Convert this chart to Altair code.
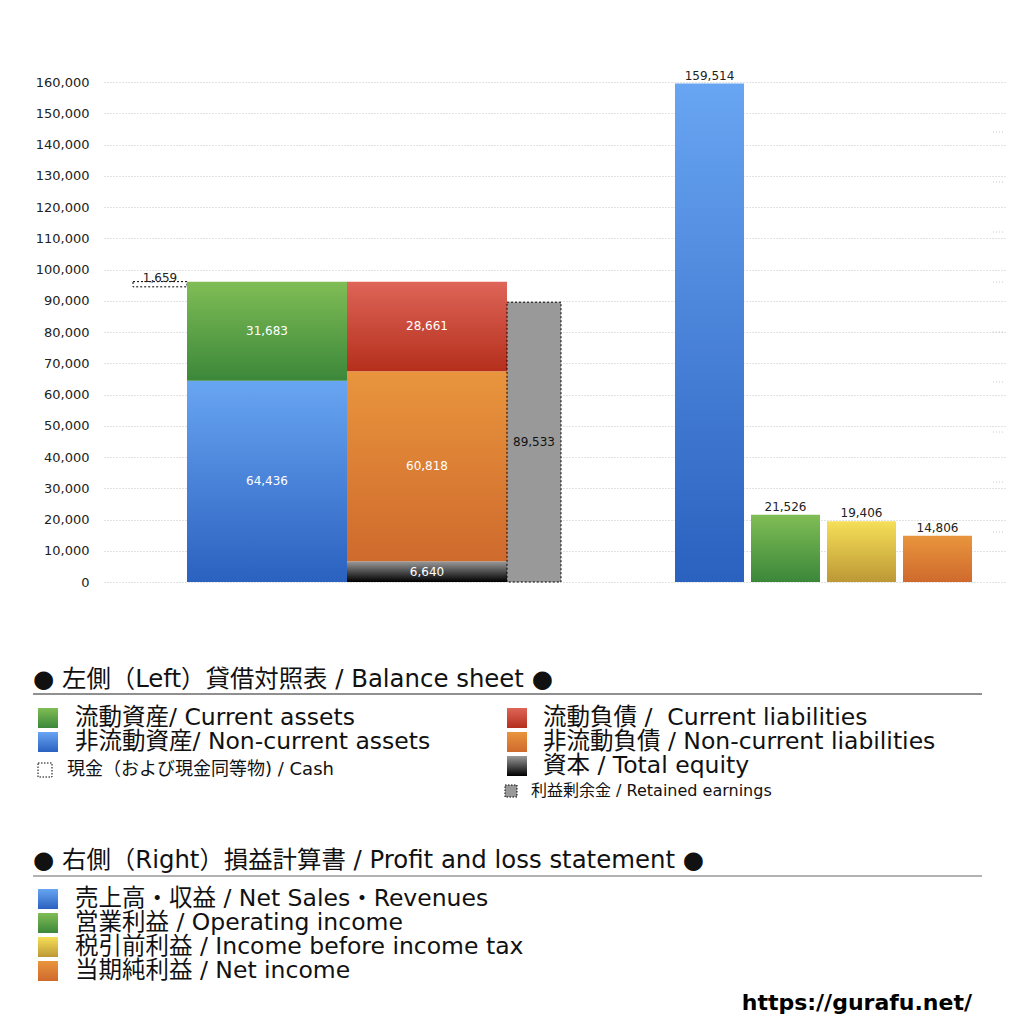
import altair as alt
import pandas as pd

# ---------------- data ----------------
bs_cash = 1659
bs_current_assets = 31683
bs_noncurrent_assets = 64436
bs_current_liabilities = 28661
bs_noncurrent_liabilities = 60818
bs_total_equity = 6640
bs_retained_earnings = 89533

pl_names = ["売上高・収益", "営業利益", "税引前利益", "当期純利益"]
pl_values = [159514, 21526, 19406, 14806]

y_ticks = [0, 10000, 20000, 30000, 40000, 50000, 60000, 70000, 80000,
           90000, 100000, 110000, 120000, 130000, 140000, 150000, 160000]
right_ticks = [16000, 32000, 48000, 64000, 80000, 96000, 112000, 128000, 144000]

title_bs = "● 左側（Left）貸借対照表 / Balance sheet ●"
title_pl = "● 右側（Right）損益計算書 / Profit and loss statement ●"
legend_bs_left = ["流動資産/ Current assets", "非流動資産/ Non-current assets"]
legend_cash = "現金（および現金同等物) / Cash"
legend_bs_right = ["流動負債 /\u00a0 Current liabilities", "非流動負債 / Non-current liabilities",
                   "資本 / Total equity"]
legend_retained = "利益剰余金 / Retained earnings"
legend_pl = ["売上高・収益 / Net Sales・Revenues", "営業利益 / Operating income",
             "税引前利益 / Income before income tax", "当期純利益 / Net income"]
url_text = "https://gurafu.net/"

# ---------------- styles / layout ----------------
W, H = 901, 500
PL, PT = 96, 74  # padding -> plot origin on page at (104, 82)
FONT = "DejaVu Sans, Noto Sans CJK JP"


def grad(top, bottom):
    return alt.LinearGradient(
        gradient="linear", x1=0, y1=0, x2=0, y2=1,
        stops=[alt.GradientStop(offset=0, color=top),
               alt.GradientStop(offset=1, color=bottom)])


G_GREEN = grad("#80bd55", "#3b873a")
G_BLUE = grad("#68a5f2", "#2b61bf")
G_RED = grad("#de6558", "#b52f1c")
G_ORANGE = grad("#e9953d", "#cf6a2d")
G_BLACK = grad("#9a9a9a", "#000000")
G_YELLOW = grad("#f5df57", "#bd9836")

# horizontal slots in plot pixels (x scale is identity-like, 0..W)
slot_cash = (29, 83)
slot_assets = (83, 243)
slot_liab = (243, 403)
slot_retained = (403, 457)
slots_pl = [(571, 640), (647, 716), (723, 792), (799, 868)]
pl_grads = [G_BLUE, G_GREEN, G_YELLOW, G_ORANGE]

xs = alt.Scale(domain=[0, W], range=[0, W])
ys = alt.Scale(domain=[0, 160000], nice=False, zero=True)
yax = alt.Axis(values=y_ticks, format=",d", domain=False, ticks=False,
               labelPadding=15, labelFontSize=13, labelFont=FONT,
               labelColor="#222", grid=True, gridColor="#c4c4c4",
               gridDash=[1, 2], gridWidth=1, title=None)

total_assets = bs_current_assets + bs_noncurrent_assets

segments = [
    # name, slot, y0, y1, fill, label_color, dashed border
    ("cash", slot_cash, total_assets - bs_cash, total_assets, "white", None, True),
    ("nca", slot_assets, 0, bs_noncurrent_assets, G_BLUE, "white", False),
    ("ca", slot_assets, bs_noncurrent_assets, total_assets, G_GREEN, "white", False),
    ("eq", slot_liab, 0, bs_total_equity, G_BLACK, "white", False),
    ("ncl", slot_liab, bs_total_equity, bs_total_equity + bs_noncurrent_liabilities,
     G_ORANGE, "white", False),
    ("cl", slot_liab, bs_total_equity + bs_noncurrent_liabilities,
     bs_total_equity + bs_noncurrent_liabilities + bs_current_liabilities,
     G_RED, "white", False),
    ("re", slot_retained, 0, bs_retained_earnings, "#999999", "#111", True),
]
for (s, g, v) in zip(slots_pl, pl_grads, pl_values):
    segments.append(("pl", s, 0, v, g, None, False))

layers = []

# right-side short dotted ticks (secondary scale artefact)
rt = pd.DataFrame({"v": right_ticks})
layers.append(alt.Chart(rt).mark_rule(color="#c8c8c8", strokeDash=[1, 2]).encode(
    y=alt.Y("v:Q", scale=ys, axis=yax), x=alt.value(W - 12), x2=alt.value(W)))

inside_labels = []
top_labels = []
for name, (x0, x1), y0, y1, fill, lc, dashed in segments:
    df = pd.DataFrame({"x0": [x0], "x1": [x1], "y0": [y0], "y1": [y1]})
    kw = dict(fill=fill)
    if dashed:
        kw.update(stroke="#000", strokeWidth=1, strokeDash=[2, 2])
    layers.append(alt.Chart(df).mark_rect(**kw).encode(
        x=alt.X("x0:Q", scale=xs, axis=None), x2="x1",
        y=alt.Y("y0:Q", scale=ys, axis=yax), y2="y1"))
    value = y1 - y0
    if lc is not None:
        inside_labels.append({"xc": (x0 + x1) / 2, "y": (y0 + y1) / 2,
                              "t": f"{value:,}", "c": lc})
    else:
        top_labels.append({"xc": (x0 + x1) / 2, "y": y1, "t": f"{value:,}",
                           "dy": 3 if name == "cash" else -1})

lab_in = pd.DataFrame(inside_labels)
layers.append(alt.Chart(lab_in).mark_text(font=FONT, fontSize=12, baseline="middle").encode(
    x=alt.X("xc:Q", scale=xs, axis=None), y=alt.Y("y:Q", scale=ys, axis=yax),
    text="t:N", color=alt.Color("c:N", scale=None)))
lab_top = pd.DataFrame(top_labels)
for dyv in sorted(set(lab_top["dy"])):
    layers.append(alt.Chart(lab_top[lab_top["dy"] == dyv]).mark_text(
        font=FONT, fontSize=12, baseline="bottom", dy=int(dyv), color="#222").encode(
        x=alt.X("xc:Q", scale=xs, axis=None), y=alt.Y("y:Q", scale=ys, axis=yax),
        text="t:N"))

# ---------------- legend block (page coordinates -> plot coordinates) ----------------
one = pd.DataFrame({"a": [0]})
OX, OY = PL + 8, PT + 8


def text_at(txt, px, py, size, weight="normal", align="left", color="#111"):
    return alt.Chart(one).mark_text(text=txt, font=FONT, fontSize=size, fontWeight=weight,
                                    align=align, baseline="middle", color=color).encode(
        x=alt.value(px - OX), y=alt.value(py - OY))


def rect_at(px0, py0, px1, py1, fill, dashed=False):
    kw = dict(fill=fill)
    if dashed:
        kw.update(stroke="#000", strokeWidth=1, strokeDash=[1.5, 1.5])
    return alt.Chart(one).mark_rect(**kw).encode(
        x=alt.value(px0 - OX), x2=alt.value(px1 - OX),
        y=alt.value(py0 - OY), y2=alt.value(py1 - OY))


def hline(py, px0, px1, color):
    return alt.Chart(one).mark_rule(color=color, strokeWidth=1.2).encode(
        x=alt.value(px0 - OX), x2=alt.value(px1 - OX), y=alt.value(py - OY))


TITLE = 24.4
BIG = 23.5
layers.append(text_at(title_bs, 33, 680, TITLE))
layers.append(hline(694, 33, 982, "#222"))
for i, (t, g) in enumerate(zip(legend_bs_left, [G_GREEN, G_BLUE])):
    cy = 718 + 24 * i
    layers.append(rect_at(38, cy - 10, 58, cy + 10, g))
    layers.append(text_at(t, 75, cy, BIG))
layers.append(rect_at(38, 763, 52, 777, "white", dashed=True))
layers.append(text_at(legend_cash, 67, 770, 18))
for i, (t, g) in enumerate(zip(legend_bs_right, [G_RED, G_ORANGE, G_BLACK])):
    cy = 718 + 24 * i
    layers.append(rect_at(507, cy - 10, 527, cy + 10, g))
    layers.append(text_at(t, 543, cy, BIG))
layers.append(rect_at(505, 785, 517, 797, "#999999", dashed=True))
layers.append(text_at(legend_retained, 531, 791, 16))

layers.append(text_at(title_pl, 33, 861, TITLE))
layers.append(hline(876, 33, 982, "#666"))
for i, (t, g) in enumerate(zip(legend_pl, pl_grads)):
    cy = 899 + 24 * i
    layers.append(rect_at(38, cy - 10, 58, cy + 10, g))
    layers.append(text_at(t, 75, cy, BIG))

layers.append(text_at(url_text, 972, 1003, 22, weight="bold", align="right",
                      color="#000"))

chart = alt.layer(*layers).properties(
    width=W, height=H,
    autosize=alt.AutoSizeParams(type="none"),
    padding={"left": PL, "top": PT, "right": 11, "bottom": 434},
).configure(background="white").configure_view(stroke=None)

chart.save("out.html", embed_options={"renderer": "svg", "actions": False})
